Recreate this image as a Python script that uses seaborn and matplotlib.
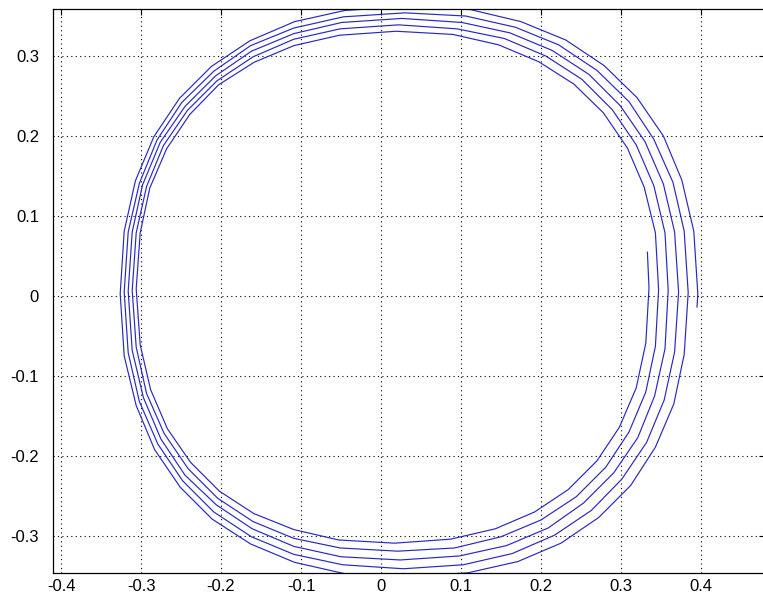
import matplotlib
matplotlib.use("Agg")
import matplotlib.pyplot as plt
import seaborn as sns
import numpy as np
import pandas as pd

# trajectory, one list per turn (clockwise, starting on the right)
start_x = [0.333]
start_y = [0.055]

x_turn1 = [0.335, 0.331, 0.319, 0.298, 0.270, 0.234, 0.192, 0.143, 0.087, 0.017, -0.053, -0.109,
           -0.159, -0.202, -0.238, -0.267, -0.288, -0.301, -0.306, -0.301, -0.289, -0.268, -0.239, -0.203,
           -0.159, -0.109, -0.052, 0.019, 0.090, 0.147, 0.197, 0.241, 0.278, 0.308, 0.329, 0.343]
y_turn1 = [0.010, -0.059, -0.115, -0.164, -0.206, -0.242, -0.270, -0.291, -0.304, -0.309, -0.305, -0.292,
           -0.272, -0.244, -0.208, -0.166, -0.117, -0.061, 0.009, 0.079, 0.135, 0.184, 0.227, 0.264,
           0.292, 0.313, 0.326, 0.331, 0.327, 0.314, 0.293, 0.265, 0.229, 0.185, 0.136, 0.079]

x_turn2 = [0.347, 0.343, 0.331, 0.310, 0.281, 0.244, 0.200, 0.150, 0.092, 0.021, -0.051, -0.109,
           -0.160, -0.204, -0.241, -0.271, -0.293, -0.306, -0.311, -0.306, -0.293, -0.272, -0.242, -0.205,
           -0.160, -0.109, -0.051, 0.022, 0.095, 0.154, 0.206, 0.251, 0.289, 0.319, 0.341, 0.355]
y_turn2 = [0.008, -0.063, -0.120, -0.170, -0.214, -0.251, -0.280, -0.301, -0.315, -0.319, -0.315, -0.303,
           -0.282, -0.253, -0.216, -0.172, -0.122, -0.064, 0.007, 0.079, 0.137, 0.188, 0.232, 0.269,
           0.299, 0.321, 0.334, 0.339, 0.334, 0.322, 0.300, 0.271, 0.233, 0.189, 0.138, 0.079]

x_turn3 = [0.359, 0.355, 0.342, 0.321, 0.291, 0.253, 0.209, 0.157, 0.098, 0.024, -0.050, -0.109,
           -0.161, -0.206, -0.245, -0.275, -0.297, -0.311, -0.316, -0.311, -0.298, -0.276, -0.245, -0.207,
           -0.162, -0.109, -0.049, 0.026, 0.101, 0.161, 0.214, 0.260, 0.299, 0.330, 0.353, 0.367]
y_turn3 = [0.007, -0.066, -0.125, -0.177, -0.221, -0.259, -0.290, -0.312, -0.325, -0.330, -0.326, -0.313,
           -0.291, -0.261, -0.224, -0.179, -0.127, -0.068, 0.006, 0.080, 0.139, 0.192, 0.237, 0.275,
           0.306, 0.328, 0.342, 0.347, 0.342, 0.329, 0.307, 0.277, 0.238, 0.193, 0.140, 0.080]

x_turn4 = [0.372, 0.367, 0.354, 0.332, 0.301, 0.263, 0.217, 0.164, 0.103, 0.028, -0.048, -0.109,
           -0.162, -0.209, -0.248, -0.279, -0.302, -0.316, -0.321, -0.316, -0.302, -0.280, -0.249, -0.209,
           -0.163, -0.109, -0.047, 0.030, 0.106, 0.168, 0.222, 0.270, 0.310, 0.341, 0.365, 0.379]
y_turn4 = [0.005, -0.070, -0.130, -0.183, -0.229, -0.268, -0.299, -0.322, -0.336, -0.341, -0.336, -0.323,
           -0.301, -0.270, -0.231, -0.185, -0.132, -0.071, 0.005, 0.080, 0.141, 0.195, 0.242, 0.281,
           0.313, 0.335, 0.349, 0.354, 0.350, 0.336, 0.314, 0.282, 0.243, 0.196, 0.142, 0.081]

x_turn5 = [0.384, 0.379, 0.366, 0.343, 0.312, 0.272, 0.225, 0.171, 0.109, 0.031, -0.046, -0.108,
           -0.163, -0.211, -0.251, -0.283, -0.306, -0.321, -0.326, -0.321, -0.307, -0.284, -0.252, -0.212,
           -0.164, -0.108, -0.045, 0.033, 0.112, 0.175, 0.231, 0.279, 0.320, 0.353, 0.376, 0.391]
y_turn5 = [0.004, -0.073, -0.135, -0.189, -0.237, -0.277, -0.309, -0.332, -0.346, -0.351, -0.347, -0.333,
           -0.310, -0.279, -0.239, -0.192, -0.137, -0.075, 0.003, 0.081, 0.144, 0.199, 0.247, 0.287,
           0.319, 0.343, 0.357, 0.362, 0.358, 0.343, 0.320, 0.288, 0.248, 0.200, 0.145, 0.081]

end_x = [0.396, 0.395]
end_y = [0.003, -0.014]

x_ticks = [-0.4, -0.3, -0.2, -0.1, 0, 0.1, 0.2, 0.3, 0.4]
x_labels = ['-0.4', '-0.3', '-0.2', '-0.1', '0', '0.1', '0.2', '0.3', '0.4']
y_ticks = [-0.3, -0.2, -0.1, 0, 0.1, 0.2, 0.3]
y_labels = ['-0.3', '-0.2', '-0.1', '0', '0.1', '0.2', '0.3']

xs = start_x + x_turn1 + x_turn2 + x_turn3 + x_turn4 + x_turn5 + end_x
ys = start_y + y_turn1 + y_turn2 + y_turn3 + y_turn4 + y_turn5 + end_y
df = pd.DataFrame({'x': xs, 'y': ys, 'step': np.arange(len(xs))})

sns.set_theme(style='white')
plt.rcParams['font.family'] = ['Liberation Sans', 'DejaVu Sans']
plt.rcParams['axes.unicode_minus'] = False

fig = plt.figure(figsize=(7.63, 6.05), dpi=100)
ax = fig.add_axes([53 / 763, 32 / 605, 712 / 763, 564 / 605])

sns.lineplot(data=df, x='x', y='y', sort=False, estimator=None, color='#2828c0',
             linewidth=0.85, ax=ax)

ax.set_xlim(-0.41, 0.48)
ax.set_ylim(-0.3463, 0.3588)
ax.set_xticks(x_ticks)
ax.set_xticklabels(x_labels)
ax.set_yticks(y_ticks)
ax.set_yticklabels(y_labels)
ax.set_xlabel('')
ax.set_ylabel('')

ax.grid(True, color='black', linestyle=(0, (1, 3)), linewidth=0.8)
ax.tick_params(direction='in', length=4, width=0.8, top=True, right=True,
               colors='black', labelsize=12)
ax.tick_params(axis='x', pad=4)
ax.tick_params(axis='y', pad=10)
for side in ['top', 'bottom', 'left', 'right']:
    ax.spines[side].set_color('black')
    ax.spines[side].set_linewidth(0.9)

fig.savefig('out.png', dpi=100)
